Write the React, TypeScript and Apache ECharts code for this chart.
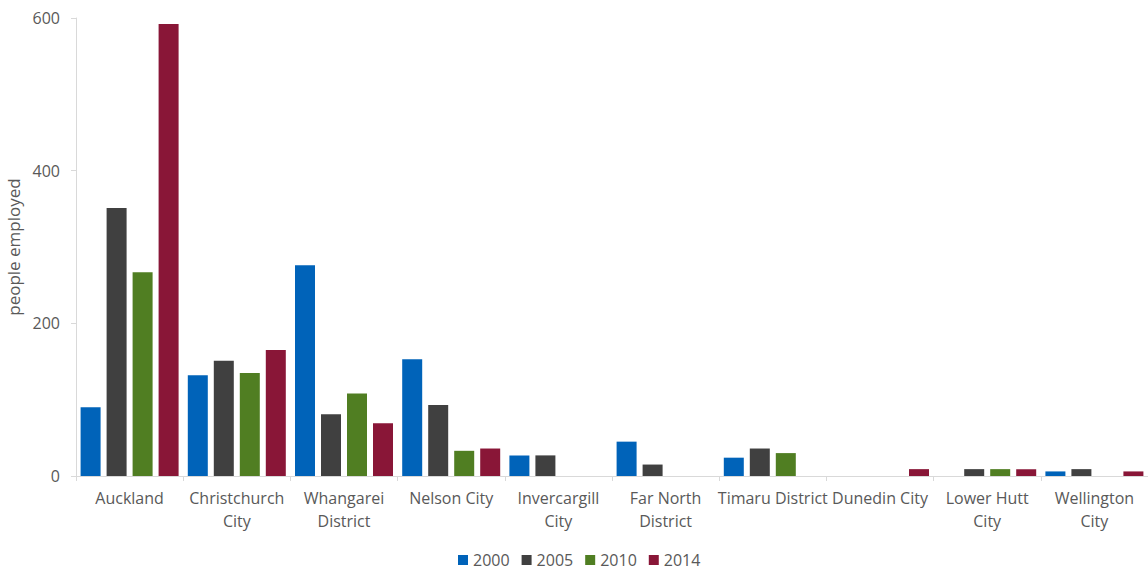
import React, { useEffect, useRef } from "react";
import * as echarts from "echarts";

const categories = [
  "Auckland",
  "Christchurch\nCity",
  "Whangarei\nDistrict",
  "Nelson City",
  "Invercargill\nCity",
  "Far North\nDistrict",
  "Timaru District",
  "Dunedin City",
  "Lower Hutt\nCity",
  "Wellington\nCity",
];
const years = ["2000", "2005", "2010", "2014"];
const values2000 = [90, 132, 276, 153, 27, 45, 24, 0, 0, 6];
const values2005 = [351, 151, 81, 93, 27, 15, 36, 0, 9, 9];
const values2010 = [267, 135, 108, 33, 0, 0, 30, 0, 9, 0];
const values2014 = [592, 165, 69, 36, 0, 0, 0, 9, 9, 6];
const yTicks = { min: 0, max: 600, interval: 200 };

const colors = ["#0063B9", "#404040", "#507E22", "#891637"];
const FONT = "'Open Sans', sans-serif";
const TEXT = "#595959";

export default function App() {
  const ref = useRef<HTMLDivElement>(null);
  useEffect(() => {
    if (!ref.current) return;
    const chart = echarts.init(ref.current, undefined, { renderer: "svg" });
    const seriesData = [values2000, values2005, values2010, values2014];
    chart.setOption({
      animation: false,
      color: colors,
      textStyle: { fontFamily: FONT },
      grid: {
        left: 76,
        right: 0,
        top: 18,
        bottom: 94,
        containLabel: false,
        outerBoundsMode: "none",
      },
      legend: {
        data: years,
        top: 547,
        left: 453,
        icon: "rect",
        itemWidth: 10,
        itemHeight: 10,
        itemGap: 12,
        textStyle: { color: TEXT, fontSize: 16, fontFamily: FONT },
      },
      xAxis: {
        type: "category",
        data: categories,
        axisLine: { show: true, lineStyle: { color: "#D9D9D9", width: 1 } },
        axisTick: { show: true, length: 5, lineStyle: { color: "#D9D9D9" } },
        axisLabel: {
          color: TEXT,
          fontSize: 16,
          fontFamily: FONT,
          lineHeight: 23,
          margin: 10,
          interval: 0,
        },
      },
      yAxis: {
        type: "value",
        min: yTicks.min,
        max: yTicks.max,
        interval: yTicks.interval,
        name: "people employed",
        nameLocation: "middle",
        nameGap: 50,
        nameTextStyle: { color: TEXT, fontSize: 17, fontFamily: FONT },
        axisLine: { show: true, lineStyle: { color: "#D9D9D9", width: 1 } },
        axisTick: { show: true, length: 5, lineStyle: { color: "#D9D9D9" } },
        axisLabel: { color: TEXT, fontSize: 16, fontFamily: FONT, margin: 16 },
        splitLine: { show: false },
      },
      series: years.map((y, i) => ({
        name: y,
        type: "bar",
        data: seriesData[i],
        barWidth: 20,
        barGap: "30%",
        itemStyle: { color: colors[i] },
      })),
    });
    return () => chart.dispose();
  }, []);
  return (
    <div
      ref={ref}
      style={{ position: "fixed", left: 0, top: 0, width: 1148, height: 570, background: "#fff" }}
    />
  );
}
